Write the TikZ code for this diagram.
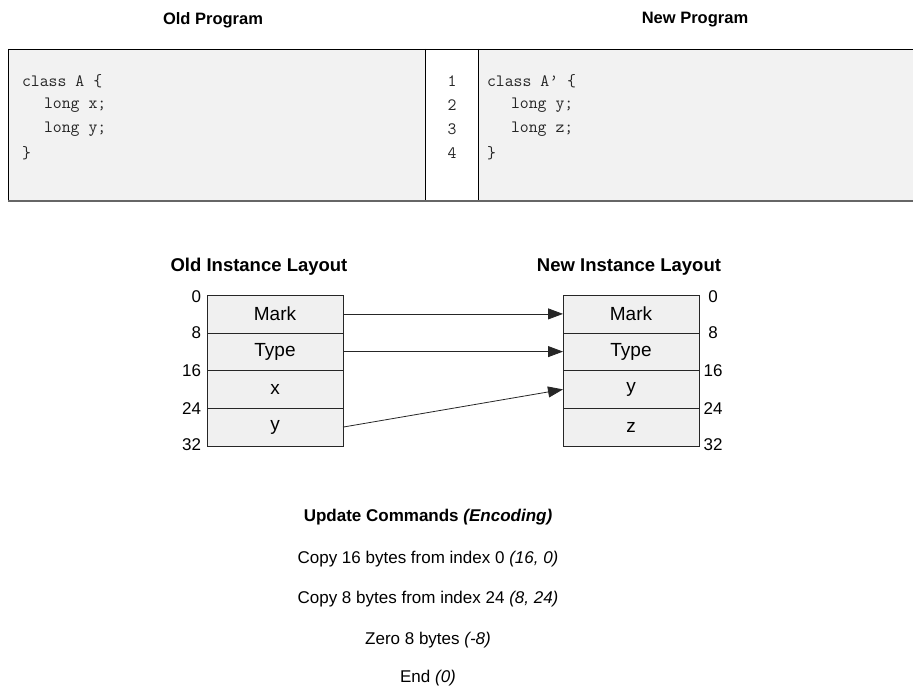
\documentclass[tikz,border=0pt]{standalone}
\usepackage{fontspec}
\setmainfont{Liberation Sans}
\usetikzlibrary{arrows.meta}
\definecolor{codegray}{HTML}{F2F2F2}
\definecolor{cellgray}{HTML}{F0F0F0}
\begin{document}
\begin{tikzpicture}[x=1pt,y=-1pt,
  every node/.style={inner sep=0pt, outer sep=0pt},
  heading/.style={font=\fontsize{16.5}{20}\selectfont\bfseries},
  layhead/.style={font=\fontsize{18.5}{22}\selectfont\bfseries},
  code/.style={font=\fontsize{17.3}{20}\selectfont\ttfamily, text=black!85, anchor=west},
  lineno/.style={font=\fontsize{17.3}{20}\selectfont\ttfamily, text=black!85},
  cell/.style={draw=black!85, fill=cellgray, minimum width=136pt, minimum height=37.75pt,
    font=\fontsize{19}{22}\selectfont},
  offs/.style={font=\fontsize{17}{20}\selectfont},
  link/.style={draw=black!85, line width=0.8pt, -{Triangle[length=15pt,width=11pt]}},
  cmd/.style={font=\fontsize{17}{20}\selectfont}
]
\useasboundingbox (0,0) rectangle (913,693);

% ---- program listings ----
\node[heading] (oldprog) at (213,20) {Old Program};
\node[heading] (newprog) at (695,20) {New Program};

\fill[codegray] (8,49) rectangle (913,201);
\fill[white] (425,49) rectangle (478,201);
\draw[black, line width=0.9pt] (8,49) -- (913,49);
\draw[black, line width=0.9pt] (8,49) -- (8,201);
\draw[black, line width=0.9pt] (425,49) -- (425,201);
\draw[black, line width=0.9pt] (478,49) -- (478,201);
\draw[black!60, line width=1.6pt] (8,201) -- (913,201);

\node[code] (oa) at (22,81) {class A \{};
\node[code] (ob) at (44,105) {long x;};
\node[code] (oc) at (44,129) {long y;};
\node[code] (od) at (22,153) {\}};

\node[lineno] (l1) at (452,81) {1};
\node[lineno] (l2) at (452,105) {2};
\node[lineno] (l3) at (452,129) {3};
\node[lineno] (l4) at (452,153) {4};

\node[code] (na) at (487,81) {class A’ \{};
\node[code] (nb) at (511,105) {long y;};
\node[code] (nc) at (511,129) {long z;};
\node[code] (nd) at (487,153) {\}};

% ---- instance layouts ----
\node[layhead] (oldlay) at (259,267) {Old Instance Layout};
\node[layhead] (newlay) at (629,267) {New Instance Layout};

\node[cell] (o1) at (275,313.9) {Mark};
\node[cell] (o2) at (275,351.6) {Type};
\node[cell] (o3) at (275,389.4) {x};
\node[cell] (o4) at (275,427.1) {y};

\node[cell] (n1) at (631,313.9) {Mark};
\node[cell] (n2) at (631,351.6) {Type};
\node[cell] (n3) at (631,389.4) {y};
\node[cell] (n4) at (631,427.1) {z};

\node[offs, anchor=east] (oo0) at (201,297) {0};
\node[offs, anchor=east] (oo8) at (201,333) {8};
\node[offs, anchor=east] (oo16) at (201,371) {16};
\node[offs, anchor=east] (oo24) at (201,409) {24};
\node[offs, anchor=east] (oo32) at (201,445) {32};

\node[offs] (no0) at (713,297) {0};
\node[offs] (no8) at (713,333) {8};
\node[offs] (no16) at (713,371) {16};
\node[offs] (no24) at (713,409) {24};
\node[offs] (no32) at (713,445) {32};

\draw[link] (o1.east) -- (n1.west);
\draw[link] (o2.east) -- (n2.west);
\draw[link] (o4.east) -- (n3.west);

% ---- update commands ----
\node[heading, font=\fontsize{17}{20}\selectfont\bfseries] (cmdhead) at (428,517) {Update Commands \textit{(Encoding)}};
\node[cmd] (c1) at (428,559) {Copy 16 bytes from index 0 \textit{(16, 0)}};
\node[cmd] (c2) at (428,599) {Copy 8 bytes from index 24 \textit{(8, 24)}};
\node[cmd] (c3) at (428,640) {Zero 8 bytes \textit{(-8)}};
\node[cmd] (c4) at (428,678) {End \textit{(0)}};
\end{tikzpicture}
\end{document}
